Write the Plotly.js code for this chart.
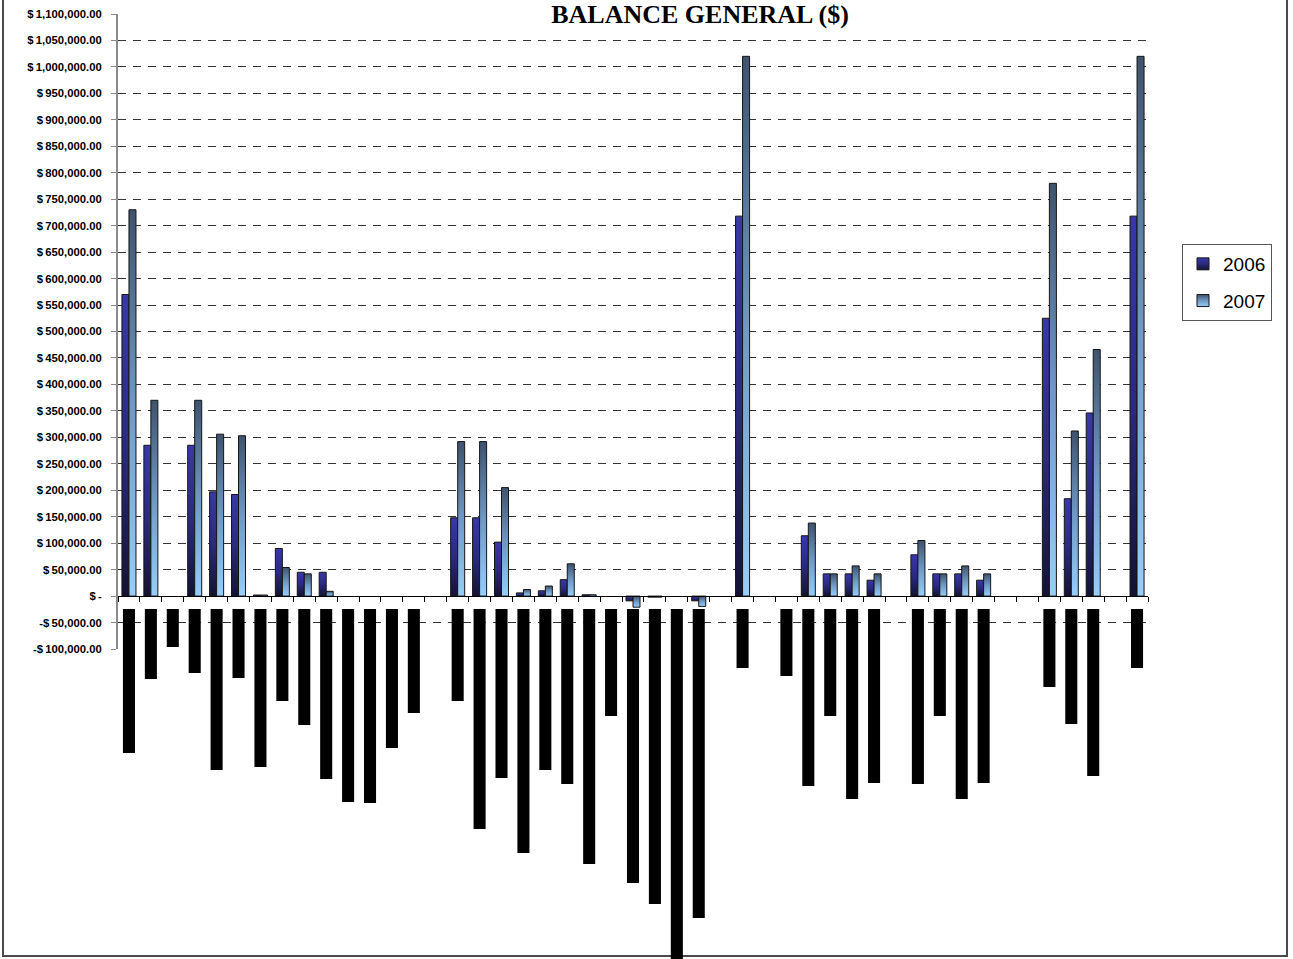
<!DOCTYPE html>
<html>
<head>
<meta charset="utf-8">
<script src="https://cdn.plot.ly/plotly-3.0.1.min.js"></script>
<style>
  html, body { margin: 0; padding: 0; background: #ffffff; }
  #frame { position: absolute; left: 2px; top: -3px; width: 1286px; height: 960px; box-sizing: border-box;
           border: 2px solid #4a4a4a; z-index: 0; }
  #chart { position: absolute; left: 0; top: 0; width: 1293px; height: 959px; z-index: 1; }
</style>
</head>
<body>
<div id="frame"></div>
<div id="chart"></div>
<script>
// ---- data ----
const categories = ["1","2","3","4","5","6","7","8","9","10","11","12","13","14","15","16",
  "17","18","19","20","21","22","23","24","25","26","27","28","29","30","31","32",
  "33","34","35","36","37","38","39","40","41","42","43","44","45","46","47"];

const values2006 = [570000, 285000, null, 285000, 197000, 192000, 2000, 90000, 45000, 45000,
  null, null, null, null, null, 148000, 148000, 102000, 6000, 10000,
  31000, 2500, null, -9000, -2000, null, -9000, null, 718000, null,
  null, 114000, 42000, 42000, 30000, null, 78000, 42000, 42000, 30000,
  null, null, 525000, 184000, 346000, null, 718000];

const values2007 = [730000, 370000, null, 370000, 306000, 303000, 2000, 54000, 42000, 9000,
  null, null, null, null, null, 292000, 292000, 205000, 12500, 19000,
  61000, 2500, null, -21000, -2000, null, -19500, null, 1020000, null,
  null, 138000, 42000, 57000, 42000, null, 105000, 42000, 57000, 42000,
  null, null, 780000, 312000, 466000, null, 1020000];

// length of the (blacked-out) rotated category labels below the axis
const labelLength = [144, 70, 38, 64, 161, 69, 158, 92, 116, 170,
  193, 194, 139, 104, null, 92, 220, 169, 244, 161,
  175, 255, 107, 274, 295, 350, 309, null, 59, null,
  67, 177, 107, 190, 174, null, 175, 107, 190, 174,
  null, null, 78, 115, 167, null, 59];

const tickVals = [-100000, -50000, 0, 50000, 100000, 150000, 200000, 250000, 300000, 350000,
  400000, 450000, 500000, 550000, 600000, 650000, 700000, 750000, 800000, 850000,
  900000, 950000, 1000000, 1050000, 1100000];
const tickText = ["-$\u2009100,000.00", "-$\u200950,000.00", "$\u2009-", "$\u200950,000.00", "$\u2009100,000.00",
  "$\u2009150,000.00", "$\u2009200,000.00", "$\u2009250,000.00", "$\u2009300,000.00", "$\u2009350,000.00",
  "$\u2009400,000.00", "$\u2009450,000.00", "$\u2009500,000.00", "$\u2009550,000.00", "$\u2009600,000.00",
  "$\u2009650,000.00", "$\u2009700,000.00", "$\u2009750,000.00", "$\u2009800,000.00", "$\u2009850,000.00",
  "$\u2009900,000.00", "$\u2009950,000.00", "$\u20091,000,000.00", "$\u20091,050,000.00", "$\u20091,100,000.00"];

const seriesNames = ["2006", "2007"];

// ---- layout geometry ----
const W = 1293, H = 959;
const yRange = [-100000, 1100000];
const mainDomain = [(H - 649) / H, (H - 14) / H];
const labelDomain = [0, (H - 609) / H];
const zeroPos = mainDomain[0] + (0 - yRange[0]) / (yRange[1] - yRange[0]) * (mainDomain[1] - mainDomain[0]);

const sans = '"Liberation Sans", Arial, sans-serif';

const data = [
  { type: 'bar', name: seriesNames[0], x: categories, y: values2006, xaxis: 'x', yaxis: 'y',
    legendgroup: 'g1', marker: { color: '#2a2a80', line: { color: '#151515', width: 1 } }, hoverinfo: 'x+y' },
  { type: 'bar', name: seriesNames[1], x: categories, y: values2007, xaxis: 'x', yaxis: 'y',
    legendgroup: 'g2', marker: { color: '#6e96c2', line: { color: '#151515', width: 1 } }, hoverinfo: 'x+y' },
  { type: 'bar', name: 'labels', x: categories, y: labelLength, xaxis: 'x', yaxis: 'y2',
    width: 0.55, showlegend: false, hoverinfo: 'skip',
    marker: { color: '#000000', line: { width: 0 } } }
];

const layout = {
  width: W, height: H,
  margin: { l: 118, r: 145, t: 0, b: 0, pad: 0 },
  paper_bgcolor: 'rgba(0,0,0,0)',
  plot_bgcolor: 'rgba(0,0,0,0)',
  barmode: 'group', bargap: 0.36, bargroupgap: 0,
  title: {
    text: 'BALANCE GENERAL ($)',
    font: { family: '"Liberation Serif", "Times New Roman", serif', size: 26, color: '#000', weight: 'bold' },
    x: 700 / W, xref: 'container', xanchor: 'center',
    y: 1 - 14 / H, yref: 'container', yanchor: 'middle'
  },
  xaxis: {
    type: 'category', domain: [0, 1], range: [-0.5, categories.length - 0.5],
    anchor: 'free', position: zeroPos,
    showline: true, linecolor: '#000', linewidth: 1,
    ticks: 'outside', tickson: 'boundaries', ticklen: 5, tickcolor: '#000', tickwidth: 1,
    showticklabels: false, showgrid: false, zeroline: false, fixedrange: true
  },
  yaxis: {
    domain: mainDomain, range: yRange, anchor: 'x',
    tickmode: 'array', tickvals: tickVals, ticktext: tickText,
    tickfont: { family: sans, size: 11.3, color: '#000', weight: 'bold' },
    showline: true, linecolor: '#8a8a8a', linewidth: 2,
    ticks: 'outside', ticklen: 5, tickcolor: '#8a8a8a', tickwidth: 1, ticklabelstandoff: 7,
    showgrid: true, gridcolor: '#333333', gridwidth: 1, griddash: '8px,7px',
    zeroline: false, fixedrange: true
  },
  yaxis2: {
    domain: labelDomain, range: [350, 0], anchor: 'x',
    visible: false, showgrid: false, zeroline: false, fixedrange: true
  },
  legend: {
    x: (1182 - 118) / 1030, xanchor: 'left', y: 1 - 244 / H, yanchor: 'top',
    bgcolor: '#ffffff', bordercolor: '#555555', borderwidth: 1,
    font: { family: sans, size: 19, color: '#000' },
    tracegroupgap: 9, itemwidth: 30
  },
  shapes: [
    { type: 'rect', xref: 'paper', yref: 'paper', layer: 'above',
      x0: (540 - 118) / 1030, x1: (862 - 118) / 1030, y0: 1 - 26 / H, y1: 1,
      fillcolor: '#ffffff', line: { width: 0 } }
  ]
};

const gradients = {
  '2006': [['0', '#3838aa'], ['0.5', '#2a2a80'], ['1', '#131333']],
  '2007': [['0', '#3e536e'], ['0.5', '#6f98c4'], ['1', '#96cefc']]
};

function applyGradients(gd) {
  const ns = 'http://www.w3.org/2000/svg';
  const svg = gd.querySelector('svg.main-svg');
  let defs = svg.querySelector('defs');
  if (!defs) { defs = document.createElementNS(ns, 'defs'); svg.insertBefore(defs, svg.firstChild); }
  Object.keys(gradients).forEach(function (name) {
    const g = document.createElementNS(ns, 'linearGradient');
    g.setAttribute('id', 'grad' + name);
    g.setAttribute('x1', '0'); g.setAttribute('y1', '0');
    g.setAttribute('x2', '0'); g.setAttribute('y2', '1');
    gradients[name].forEach(function (s) {
      const st = document.createElementNS(ns, 'stop');
      st.setAttribute('offset', s[0]);
      st.setAttribute('stop-color', s[1]);
      g.appendChild(st);
    });
    defs.appendChild(g);
  });
  gd.querySelectorAll('.barlayer .trace').forEach(function (tr) {
    const d = tr.__data__;
    const name = d && d[0] && d[0].trace && d[0].trace.name;
    if (gradients[name]) tr.querySelectorAll('path').forEach(function (p) { p.style.fill = 'url(#grad' + name + ')'; });
  });
  gd.querySelectorAll('.legend .traces').forEach(function (tr) {
    const d = tr.__data__;
    const name = d && d[0] && d[0].trace && d[0].trace.name;
    if (gradients[name]) tr.querySelectorAll('.legendpoints path').forEach(function (p) { p.style.fill = 'url(#grad' + name + ')'; });
  });
}

const gd = document.getElementById('chart');
Plotly.newPlot(gd, data, layout, { displayModeBar: false, responsive: false }).then(function () { applyGradients(gd); });
</script>
</body>
</html>
